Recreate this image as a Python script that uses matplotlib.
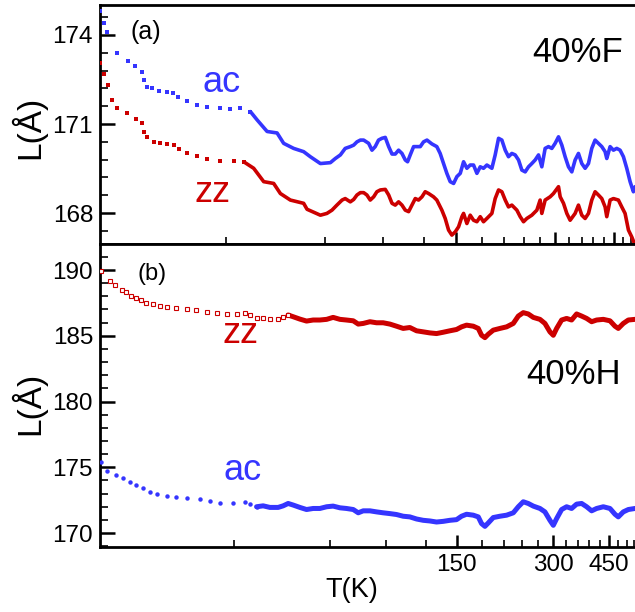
import numpy as np
import matplotlib
matplotlib.use("Agg")
import matplotlib.pyplot as plt
from matplotlib.ticker import FixedLocator, MultipleLocator, NullFormatter, FuncFormatter

plt.rcParams['font.family'] = ['Liberation Sans', 'DejaVu Sans']

# ---------------- panel (a): 40% F ----------------
T_a_ac = [12.45, 12.78, 13.14, 14.06, 15.11, 15.97, 16.74, 16.92, 17.33, 17.95,
          18.89, 19.93, 20.83, 21.57, 22.91, 24.56, 26.34, 28.90, 30.99, 33.24,
          35.64, 37.35, 40.05, 42.94, 44.96, 48.21, 51.69, 54.16,
          58.1, 62.3, 64.5, 66.8, 69.1, 71.6, 73.3, 75.0, 76.8, 78.6,
          81.4, 83.3, 85.2, 87.2, 89.3, 91.4, 93.6, 95.8, 98.0, 100.3,
          102.7, 105.1, 106.8, 108.8, 111.4, 114.0, 116.7, 119.4, 122.3, 126.6,
          131.0, 134.1, 137.3, 140.5, 143.8, 147.3, 150.7, 154.3, 157.9, 161.6,
          165.4, 169.3, 173.3, 177.4, 181.5, 185.8, 192.4, 196.9, 201.6, 206.3,
          211.2, 216.1, 221.2, 226.4, 231.8, 237.2, 242.8, 248.5, 254.3, 260.3,
          266.5, 272.7, 279.1, 285.7, 292.4, 299.3, 306.4, 313.6, 320.9, 328.5,
          336.2, 344.1, 352.2, 360.5, 369.0, 377.7, 386.5, 395.6, 404.9, 414.5,
          424.2, 429.2, 439.3, 449.6, 460.2, 471.0, 482.1, 493.5, 505.1, 516.9,
          523.0]
L_a_ac = [174.82, 174.41, 174.11, 173.38, 173.12, 172.95, 172.76, 172.48, 172.26, 172.20,
          172.12, 172.09, 172.03, 171.90, 171.78, 171.64, 171.56, 171.53, 171.50, 171.53,
          171.42, 171.14, 170.75, 170.70, 170.35, 170.18, 170.07, 169.90,
          169.67, 169.70, 169.84, 169.96, 170.18, 170.24, 170.29, 170.40, 170.46, 170.46,
          170.35, 170.12, 170.24, 170.46, 170.52, 170.55, 170.24, 169.99, 169.99, 170.12,
          170.01, 169.79, 169.73, 169.96, 170.24, 170.24, 170.24, 170.40, 170.46, 170.33,
          170.24, 170.01, 169.67, 169.34, 169.06, 169.00, 169.23, 169.34, 169.73, 169.51,
          169.62, 169.62, 169.34, 169.56, 169.51, 169.62, 169.51, 169.96, 170.52, 170.46,
          170.12, 169.90, 170.01, 169.96, 169.79, 169.45, 169.39, 169.56, 169.67, 169.79,
          169.96, 169.56, 170.18, 170.24, 170.18, 170.35, 170.57, 170.29, 169.90, 169.56,
          169.39, 169.79, 170.01, 169.67, 169.51, 169.67, 170.18, 170.46, 170.35, 170.24,
          170.07, 169.84, 170.24, 170.12, 170.18, 170.12, 169.90, 169.51, 169.06, 168.72,
          168.89]

T_a_zz = [12.45, 12.80, 13.17, 13.60, 14.06, 15.08, 16.08, 16.74, 16.92, 17.33,
          18.15, 19.02, 19.93, 20.87, 21.61, 22.91, 24.56, 26.34, 28.90, 31.71,
          34.01, 36.47, 39.11, 41.93, 43.94, 47.11, 51.69, 52.93,
          58.1, 60.8, 63.0, 65.2, 67.6, 69.1, 71.6, 73.3, 75.0, 76.8,
          78.6, 80.4, 82.3, 84.3, 86.2, 88.3, 91.4, 93.6, 95.8, 98.0,
          100.3, 102.7, 105.1, 107.6, 110.1, 112.7, 115.3, 118.1, 120.8, 123.7,
          128.0, 131.0, 135.7, 138.9, 142.2, 145.5, 149.0, 152.5, 156.1, 157.9,
          161.6, 165.4, 169.3, 173.3, 177.4, 181.5, 185.8, 192.4, 196.9, 201.6,
          206.3, 211.2, 216.1, 221.2, 229.1, 234.5, 240.0, 245.6, 254.3, 263.4,
          269.5, 272.7, 279.1, 289.0, 295.8, 306.4, 310.0, 317.3, 324.7, 332.3,
          344.1, 352.2, 360.5, 369.0, 377.7, 386.5, 395.6, 404.9, 414.5, 424.2,
          429.2, 439.3, 449.6, 465.5, 476.5, 487.7, 499.3, 510.9, 523.0]
L_a_zz = [173.07, 172.69, 172.31, 171.81, 171.55, 171.36, 171.17, 171.02, 170.74, 170.57,
          170.40, 170.37, 170.33, 170.29, 170.15, 170.01, 169.92, 169.82, 169.76, 169.76,
          169.73, 169.51, 169.06, 169.00, 168.66, 168.44, 168.33, 168.13,
          167.93, 167.99, 168.10, 168.27, 168.44, 168.49, 168.38, 168.46, 168.61, 168.69,
          168.69, 168.61, 168.44, 168.55, 168.72, 168.78, 168.80, 168.61, 168.33, 168.27,
          168.38, 168.27, 168.10, 168.05, 168.27, 168.49, 168.44, 168.55, 168.72, 168.66,
          168.55, 168.44, 168.10, 167.82, 167.43, 167.26, 167.37, 167.54, 167.88, 167.99,
          167.65, 167.93, 167.76, 167.71, 167.88, 167.71, 167.82, 167.99, 168.49, 168.78,
          168.72, 168.44, 168.21, 168.27, 168.10, 167.88, 167.71, 167.82, 167.93, 168.10,
          168.44, 167.99, 168.44, 168.55, 168.66, 168.89, 168.55, 168.33, 167.99, 167.76,
          167.99, 168.27, 167.93, 167.82, 167.99, 168.44, 168.72, 168.61, 168.49, 168.21,
          167.88, 168.44, 168.49, 168.44, 168.21, 167.99, 167.43, 167.20, 166.92]

# ---------------- panel (b): 40% H ----------------
T_b_zz = [11.54, 12.26, 12.71, 13.34, 13.82, 14.33, 14.86, 15.40, 15.97, 16.75,
          17.59, 18.46, 19.83, 21.32, 22.91, 24.63, 26.47, 28.47, 30.58, 32.48,
          33.67, 35.34, 37.06, 38.90, 41.30, 42.82, 44.39, 46.02, 48.30, 50.69,
          53.16,
          55.8, 58.6, 61.4, 64.5, 67.6, 71.0, 73.6, 76.3, 80.1, 84.0,
          88.1, 92.5, 97.0, 101.8, 106.8, 112.1, 117.6, 123.4, 129.5, 135.9,
          142.6, 149.6, 155.1, 160.8, 168.8, 175.0, 179.2, 183.6, 188.1, 195.0,
          204.6, 214.7, 225.3, 233.6, 242.1, 251.0, 260.3, 273.1, 283.1, 293.5,
          300.7, 308.0, 319.3, 331.0, 343.2, 355.8, 368.9, 382.5, 396.5, 411.1,
          431.4, 452.6, 469.3, 480.6, 498.3, 516.7, 542.2]
L_b_zz = [189.91, 189.14, 188.89, 188.50, 188.30, 188.04, 187.86, 187.73, 187.53, 187.40,
          187.30, 187.22, 187.14, 187.07, 186.97, 186.84, 186.71, 186.66, 186.66, 186.76,
          186.58, 186.33, 186.38, 186.27, 186.27, 186.40, 186.58, 186.45, 186.27, 186.12,
          186.20,
          186.20, 186.25, 186.40, 186.25, 186.20, 186.14, 185.89, 185.94, 186.07, 185.99,
          185.99, 185.89, 185.73, 185.56, 185.63, 185.38, 185.30, 185.22, 185.17, 185.27,
          185.38, 185.48, 185.68, 185.81, 185.73, 185.56, 185.04, 184.86, 185.12, 185.43,
          185.56, 185.68, 185.94, 186.50, 186.76, 186.66, 186.40, 186.25, 185.94, 185.30,
          185.04, 185.56, 186.20, 186.32, 186.20, 186.66, 186.50, 186.32, 186.07, 186.20,
          186.25, 186.14, 185.73, 185.56, 185.94, 186.20, 186.25]

T_b_ac = [11.54, 11.97, 12.80, 13.49, 14.16, 14.86, 15.58, 16.36, 17.17, 18.46,
          19.83, 21.32, 23.47, 25.22, 27.12, 29.84, 32.48, 33.67, 35.34, 37.06,
          38.90, 41.30, 42.82, 44.39, 46.02, 48.30, 50.69, 53.16,
          55.8, 58.6, 61.4, 64.5, 67.6, 71.0, 73.6, 76.3, 80.1, 84.0,
          88.1, 92.5, 97.0, 101.8, 106.8, 112.1, 117.6, 123.4, 129.5, 135.9,
          142.6, 149.6, 155.1, 160.8, 168.8, 175.0, 179.2, 183.6, 188.1, 195.0,
          204.6, 214.7, 225.3, 233.6, 242.1, 251.0, 260.3, 273.1, 283.1, 293.5,
          300.7, 308.0, 319.3, 331.0, 343.2, 355.8, 368.9, 382.5, 396.5, 411.1,
          431.4, 452.6, 469.3, 480.6, 498.3, 516.7, 542.2]
L_b_ac = [175.43, 174.69, 174.43, 174.18, 173.92, 173.66, 173.41, 173.15, 172.97, 172.84,
          172.77, 172.69, 172.56, 172.43, 172.31, 172.25, 172.38, 172.20, 172.00, 172.07,
          171.95, 171.95, 172.07, 172.25, 172.13, 171.95, 171.79, 171.87,
          171.87, 172.00, 172.05, 171.92, 171.87, 171.79, 171.54, 171.69, 171.69, 171.61,
          171.54, 171.48, 171.41, 171.28, 171.23, 171.07, 170.97, 170.92, 170.84, 170.89,
          170.97, 171.02, 171.28, 171.43, 171.36, 171.23, 170.72, 170.51, 170.77, 171.18,
          171.28, 171.36, 171.54, 172.00, 172.38, 172.25, 172.05, 171.87, 171.61, 170.97,
          170.59, 171.10, 171.79, 172.00, 171.87, 172.20, 172.25, 172.00, 171.69, 171.87,
          172.00, 171.87, 171.43, 171.23, 171.61, 171.79, 171.87]

x_major = [150, 300, 450]
x_minor = [30, 60, 90, 120, 180, 210, 240, 270, 330, 360, 390, 420, 480, 510, 540]

BLUE = '#3535ff'
RED = '#cc0000'

W, H = 635, 612
fig = plt.figure(figsize=(W / 100, H / 100), dpi=100)


def box(x0, y0, x1, y1):
    return [x0 / W, 1 - y1 / H, (x1 - x0) / W, (y1 - y0) / H]


ax_a = fig.add_axes(box(100, 5, 635, 244))
ax_b = fig.add_axes(box(100, 244, 635, 547))


def draw(ax, T, L, color, cut, lw, **mk):
    T = np.asarray(T)
    L = np.asarray(L)
    i0 = int(np.argmax(T >= cut))
    ax.plot(T[max(i0 - 1, 0):], L[max(i0 - 1, 0):], color=color, lw=lw,
            solid_joinstyle='round', solid_capstyle='round', zorder=2)
    ax.plot(T[:i0], L[:i0], ls='none', color=color, zorder=3, clip_on=True, **mk)


sq = dict(marker='s', ms=2.5, mew=0)
draw(ax_a, T_a_ac, L_a_ac, BLUE, 36, 2.6, **sq)
draw(ax_a, T_a_zz, L_a_zz, RED, 36, 2.6, **sq)

draw(ax_b, T_b_zz, L_b_zz, RED, 45, 3.6, marker='s', ms=3.0, mew=0.8,
     mfc='white', mec=RED)
draw(ax_b, T_b_ac, L_b_ac, BLUE, 36, 3.6, marker='o', ms=3.2, mew=0)

ax_a.set_xlim(12.47, 522.7)
ax_b.set_xlim(11.42, 542.2)
ax_a.set_ylim(166.96, 175.01)
ax_b.set_ylim(168.94, 191.98)

for ax in (ax_a, ax_b):
    ax.set_xscale('log')
    ax.xaxis.set_major_locator(FixedLocator(x_major))
    ax.xaxis.set_minor_locator(FixedLocator(x_minor))
    ax.xaxis.set_minor_formatter(NullFormatter())
    ax.spines['right'].set_visible(False)
    for s in ('left', 'top', 'bottom'):
        ax.spines[s].set_linewidth(2.0)
    ax.tick_params(which='both', direction='in', top=False, right=False,
                   left=True, bottom=True, labelsize=17.5, pad=5.0)
    ax.tick_params(which='major', length=9, width=1.8)
    ax.tick_params(which='minor', length=5, width=1.2)
    ax.tick_params(axis='y', which='major', length=11)
    ax.tick_params(axis='y', which='minor', length=6)

ax_a.xaxis.set_major_formatter(NullFormatter())
ax_b.xaxis.set_major_formatter(FuncFormatter(lambda v, p: f"{v:.0f}"))

ax_a.yaxis.set_major_locator(FixedLocator([168, 171, 174]))
ax_a.yaxis.set_minor_locator(MultipleLocator(0.6))
ax_b.yaxis.set_major_locator(MultipleLocator(5))
ax_b.yaxis.set_minor_locator(MultipleLocator(1))


def ftext(x, y, s, **kw):
    fig.text(x / W, 1 - y / H, s, ha='center', va='center', **kw)


ftext(146, 32, '(a)', fontsize=18)
ftext(152, 274, '(b)', fontsize=17)
ftext(578, 52, '40%F', fontsize=25)
ftext(574, 375, '40%H', fontsize=25)
ftext(222, 83, 'ac', fontsize=26, color=BLUE)
ftext(213, 192, 'zz', fontsize=26, color=RED)
ftext(240, 334, 'zz', fontsize=26, color=RED)
ftext(243, 471, 'ac', fontsize=26, color=BLUE)
ftext(28, 127, 'L(Å)', fontsize=24, rotation=90)
ftext(28, 403, 'L(Å)', fontsize=24, rotation=90)
ftext(352, 590, 'T(K)', fontsize=19.5)

fig.savefig('out.png', dpi=100)
